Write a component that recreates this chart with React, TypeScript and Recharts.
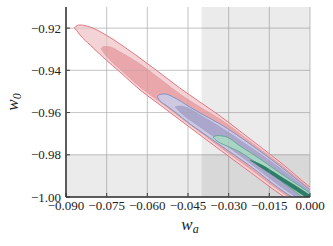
import { ComposedChart, Area, XAxis, YAxis, CartesianGrid, ReferenceArea } from "recharts";

const xTicks = [-0.09, -0.075, -0.06, -0.045, -0.03, -0.015, 0];
const yTicks = [-1.0, -0.98, -0.96, -0.94, -0.92];

// excluded regions (gray)
const waCut = -0.04;
const w0Cut = -0.98;

// red, outer contour
const redOuterWa = [-0.0869, -0.0859, -0.0848, -0.0811, -0.0752, -0.0701, -0.0627, -0.0553, -0.048, -0.0406, -0.0332, -0.0221, -0.0111, 0.0, 0.0074];
const redOuterHi = [-0.9199, -0.9188, -0.9185, -0.9195, -0.9233, -0.9275, -0.9342, -0.9413, -0.9484, -0.955, -0.9616, -0.9725, -0.9834, -0.9953, -1.0024];
const redOuterLo = [-0.9199, -0.9214, -0.9233, -0.928, -0.9351, -0.9408, -0.9493, -0.9564, -0.9635, -0.9706, -0.9777, -0.9882, -0.9986, -1.0076, -1.0147];

// red, inner contour
const redInnerWa = [-0.0771, -0.076, -0.0738, -0.0701, -0.0627, -0.0553, -0.048, -0.0406, -0.0332, -0.0221, -0.0111, 0.0, 0.0074];
const redInnerHi = [-0.9297, -0.9287, -0.9289, -0.9313, -0.937, -0.9441, -0.9512, -0.9574, -0.9631, -0.9737, -0.9844, -0.996, -1.0033];
const redInnerLo = [-0.9297, -0.9318, -0.9351, -0.9394, -0.9479, -0.955, -0.9621, -0.9692, -0.9763, -0.9867, -0.9972, -1.0066, -1.0137];

// blue, outer contour
const blueOuterWa = [-0.0563, -0.0553, -0.0535, -0.0498, -0.0443, -0.0406, -0.0332, -0.0221, -0.0111, 0.0, 0.0074];
const blueOuterHi = [-0.9526, -0.9514, -0.9512, -0.9531, -0.9574, -0.9602, -0.9654, -0.9749, -0.9853, -0.9967, -1.0038];
const blueOuterLo = [-0.9526, -0.9545, -0.9562, -0.9597, -0.9654, -0.9687, -0.9754, -0.9853, -0.9962, -1.0057, -1.0128];

// blue, inner contour
const blueInnerWa = [-0.0498, -0.048, -0.0443, -0.0406, -0.0332, -0.0221, -0.0111, 0.0, 0.0074];
const blueInnerHi = [-0.9574, -0.9569, -0.9583, -0.9612, -0.9668, -0.9763, -0.9863, -0.9974, -1.0047];
const blueInnerLo = [-0.9574, -0.9597, -0.9635, -0.9668, -0.9735, -0.9839, -0.9948, -1.0047, -1.0118];

// green, outer contour
const greenOuterWa = [-0.0358, -0.0343, -0.0314, -0.0258, -0.0221, -0.0184, -0.0111, 0.0, 0.0074];
const greenOuterHi = [-0.9716, -0.9709, -0.9713, -0.9758, -0.9789, -0.982, -0.9886, -0.9981, -1.0052];
const greenOuterLo = [-0.9716, -0.9735, -0.9754, -0.9787, -0.9818, -0.9849, -0.992, -1.0028, -1.0099];

// green, inner contour
const greenInnerWa = [-0.0221, -0.0184, -0.0111, 0.0, 0.0074];
const greenInnerHi = [-0.9825, -0.9844, -0.9901, -0.9991, -1.0057];
const greenInnerLo = [-0.9825, -0.9858, -0.992, -1.0014, -1.008];

const rows = (wa: number[], lo: number[], hi: number[]) =>
  wa.map((x, i) => ({ wa: x, band: [lo[i], hi[i]] }));

const contours = [
  { id: "redOuter", data: rows(redOuterWa, redOuterLo, redOuterHi), fill: "#f4d3d6", stroke: "#e06b76", sw: 0.9 },
  { id: "redInner", data: rows(redInnerWa, redInnerLo, redInnerHi), fill: "#e9a6ab", stroke: "#e3959b", sw: 0.6 },
  { id: "blueOuter", data: rows(blueOuterWa, blueOuterLo, blueOuterHi), fill: "#cec9e0", stroke: "#7b8ec3", sw: 0.9 },
  { id: "blueInner", data: rows(blueInnerWa, blueInnerLo, blueInnerHi), fill: "#aba7cc", stroke: "#9a9cc8", sw: 0.6 },
  { id: "greenOuter", data: rows(greenOuterWa, greenOuterLo, greenOuterHi), fill: "#a9d5c5", stroke: "#58a38a", sw: 0.8 },
  { id: "greenInner", data: rows(greenInnerWa, greenInnerLo, greenInnerHi), fill: "#2e7c68", stroke: "#2e7c68", sw: 0.5 },
];

const fmt = (digits: number) => (v: number) =>
  (v < -1e-9 ? "\u2212" : "") + Math.abs(v).toFixed(digits);

const serif = "'Liberation Serif', 'DejaVu Serif', serif";
const tickFont = { fontFamily: serif, fontSize: 13, fill: "#222" };

const XLabel = (props: any) => {
  const { x, y, width } = props.viewBox;
  return (
    <text x={x + width / 2 + 2} y={y + 33} textAnchor="middle" style={{ fontFamily: serif }} fontStyle="italic" fontSize={17} fill="#222">
      w<tspan fontSize={12} dy={3}>a</tspan>
    </text>
  );
};

const YLabel = (props: any) => {
  const { x, y, height } = props.viewBox;
  const cx = x + 8;
  const cy = y + height / 2;
  return (
    <text x={cx} y={cy} transform={`rotate(-90, ${cx}, ${cy})`} textAnchor="middle" style={{ fontFamily: serif }} fontStyle="italic" fontSize={17} fill="#222">
      w<tspan fontSize={12} dy={3}>0</tspan>
    </text>
  );
};

export default function App() {
  return (
    <div style={{ position: "absolute", left: 0, top: 0, background: "#fff", fontFamily: serif }}>
      <ComposedChart width={333} height={246} margin={{ top: 7, right: 23, left: 10, bottom: 19 }} style={{ fontFamily: serif }}>
        <CartesianGrid stroke="#cfcfcf" strokeWidth={0.8} horizontalValues={yTicks} verticalValues={xTicks} />
        <XAxis
          type="number"
          dataKey="wa"
          domain={[-0.09, 0]}
          ticks={xTicks}
          allowDataOverflow
          height={30}
          tickFormatter={fmt(3)}
          tick={tickFont}
          tickSize={-4}
          tickMargin={8}
          tickLine={{ stroke: "#222" }}
          axisLine={{ stroke: "#222", strokeWidth: 1.5 }}
          interval={0}
          label={<XLabel />}
        />
        <XAxis
          xAxisId="top"
          orientation="top"
          type="number"
          domain={[-0.09, 0]}
          ticks={xTicks}
          allowDataOverflow
          height={0}
          tickFormatter={() => ""}
          tickSize={-4}
          tickLine={{ stroke: "#222" }}
          axisLine={{ stroke: "#222", strokeWidth: 1.2 }}
          interval={0}
        />
        <YAxis
          type="number"
          domain={[-1.0, -0.91]}
          ticks={yTicks}
          allowDataOverflow
          width={56}
          tickFormatter={fmt(2)}
          tick={tickFont}
          tickSize={-4}
          tickMargin={9}
          tickLine={{ stroke: "#222" }}
          axisLine={{ stroke: "#222", strokeWidth: 1.5 }}
          interval={0}
          label={<YLabel />}
        />
        <YAxis
          yAxisId="right"
          orientation="right"
          type="number"
          domain={[-1.0, -0.91]}
          ticks={yTicks}
          allowDataOverflow
          width={0}
          tickFormatter={() => ""}
          tickSize={-4}
          tickLine={{ stroke: "#222" }}
          axisLine={{ stroke: "#222", strokeWidth: 1.5 }}
          interval={0}
        />
        <ReferenceArea x1={waCut} x2={0} y1={-1.0} y2={-0.91} fill="#000" fillOpacity={0.08} stroke="none" ifOverflow="hidden" />
        <ReferenceArea x1={-0.09} x2={0} y1={-1.0} y2={w0Cut} fill="#000" fillOpacity={0.08} stroke="none" ifOverflow="hidden" />
        {contours.map((c) => (
          <Area
            key={c.id}
            data={c.data}
            dataKey="band"
            type="monotone"
            fill={c.fill}
            fillOpacity={1}
            stroke={c.stroke}
            strokeWidth={c.sw}
            dot={false}
            activeDot={false}
            isAnimationActive={false}
          />
        ))}
        {/* grid again on top: the reference shows the grid through the contours */}
        <CartesianGrid
          stroke="#999"
          strokeOpacity={0.35}
          strokeWidth={0.8}
          horizontalValues={yTicks}
          verticalValues={xTicks}
          fill="none"
          zIndex={1000}
        />
      </ComposedChart>
    </div>
  );
}
